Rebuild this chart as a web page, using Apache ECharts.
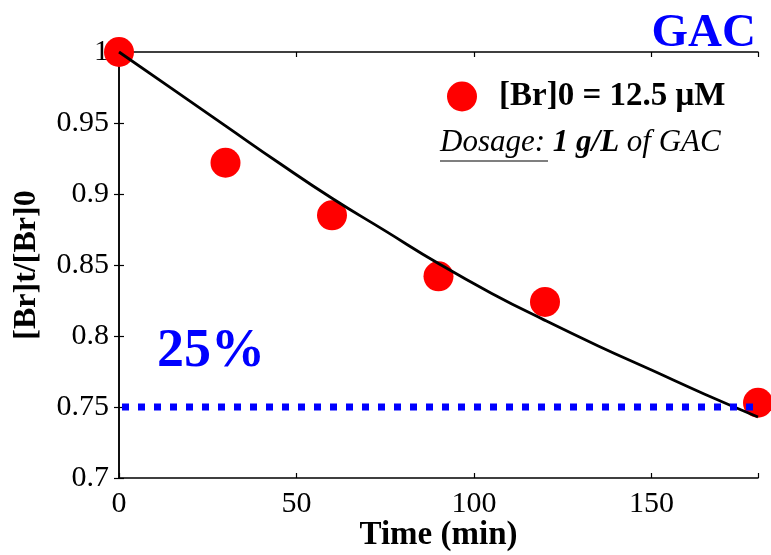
<!DOCTYPE html>
<html>
<head>
<meta charset="utf-8">
<script src="https://cdn.jsdelivr.net/npm/echarts@6/dist/echarts.min.js"></script>
<style>
  html, body { margin: 0; padding: 0; background: #fff; }
  #chart { width: 771px; height: 555px; }
</style>
</head>
<body>
<div id="chart"></div>
<script>
// measured points (min, [Br]t/[Br]0)
const timePoints = [0, 30, 60, 90, 120, 180];
const ratioPoints = [1.0, 0.922, 0.885, 0.842, 0.824, 0.753];

// fitted curve
const fitTimes = [0, 15, 30, 45, 60, 75, 90, 105, 120, 135, 150, 165, 180];
const fitRatios = [1.0, 0.974, 0.948, 0.922, 0.897, 0.874, 0.851, 0.830, 0.811, 0.793, 0.776, 0.759, 0.743];

// 25% removal reference
const refTimes = [0, 180];
const refLevel = 0.75;

const xTicks = [0, 50, 100, 150];
const legendName = '[Br]0 = 12.5 μM';

const font = 'Liberation Serif';
const chart = echarts.init(document.getElementById('chart'));

const axisBase = {
  axisLine: { lineStyle: { color: '#000', width: 1.5 } },
  axisTick: { inside: true, length: 5, lineStyle: { color: '#000', width: 1.2 } },
  splitLine: { show: false }
};

chart.setOption({
  animation: false,
  backgroundColor: '#fff',
  title: {
    text: 'GAC',
    right: 10,
    top: 5,
    textStyle: { color: '#0000ff', fontFamily: font, fontWeight: 'bold', fontSize: 47 }
  },
  legend: {
    data: [{ name: legendName, icon: 'circle' }],
    left: 442,
    top: 75,
    itemWidth: 30,
    itemHeight: 30,
    textStyle: { fontFamily: font, fontWeight: 'bold', fontSize: 33, color: '#000', padding: [0, 0, 0, 17] }
  },
  grid: { left: 119, right: 13, top: 52, bottom: 77, outerBoundsMode: 'none', containLabel: false },
  xAxis: [
    Object.assign({}, axisBase, {
      type: 'value', min: 0, max: 180, interval: 50,
      name: 'Time (min)', nameLocation: 'middle', nameGap: 41, nameMoveOverlap: false,
      nameTextStyle: { fontFamily: font, fontWeight: 'bold', fontSize: 33, color: '#000' },
      axisLabel: {
        fontFamily: font, fontSize: 30, color: '#000', margin: 11,
        formatter: v => (xTicks.indexOf(v) >= 0 ? String(v) : '')
      }
    }),
    Object.assign({}, axisBase, {
      type: 'value', position: 'top', min: 0, max: 180, interval: 50,
      axisLabel: { show: false }
    })
  ],
  yAxis: [
    Object.assign({}, axisBase, {
      type: 'value', min: 0.7, max: 1, interval: 0.05,
      name: '[Br]t/[Br]0', nameLocation: 'middle', nameGap: 76, nameMoveOverlap: false,
      nameTextStyle: { fontFamily: font, fontWeight: 'bold', fontSize: 32, color: '#000' },
      axisLabel: { fontFamily: font, fontSize: 30, color: '#000', margin: 10 }
    }),
    Object.assign({}, axisBase, {
      type: 'value', position: 'right', min: 0.7, max: 1, interval: 0.05,
      axisLabel: { show: false }
    })
  ],
  graphic: [
    {
      type: 'text', left: 157, top: 325, z: 10,
      style: { text: '25%', fill: '#0000ff', font: 'bold 54px "Liberation Serif"' }
    },
    {
      type: 'text', left: 440, top: 127, z: 10,
      style: {
        text: '{u|Dosage:}{b| 1 g/L }{i|of GAC}',
        rich: {
          u: { font: 'italic 31px "Liberation Serif"', fill: '#000' },
          b: { font: 'italic bold 31px "Liberation Serif"', fill: '#000' },
          i: { font: 'italic 31px "Liberation Serif"', fill: '#000' }
        }
      }
    },
    {
      type: 'line', z: 10,
      shape: { x1: 440, y1: 161, x2: 548, y2: 161 },
      style: { stroke: '#000', lineWidth: 1.2 }
    }
  ],
  series: [
    {
      name: legendName,
      type: 'scatter',
      data: timePoints.map((t, i) => [t, ratioPoints[i]]),
      symbol: 'circle',
      symbolSize: 30,
      clip: false,
      itemStyle: { color: '#ff0000', opacity: 1 },
      z: 2
    },
    {
      name: 'fit',
      type: 'line',
      data: fitTimes.map((t, i) => [t, fitRatios[i]]),
      smooth: true,
      showSymbol: false,
      lineStyle: { color: '#000', width: 2.8 },
      z: 3
    },
    {
      name: '25%',
      type: 'line',
      data: refTimes.map(t => [t, refLevel]),
      showSymbol: false,
      lineStyle: { color: '#0000ff', width: 7, type: [7, 9], dashOffset: 13, cap: 'butt' },
      z: 4
    }
  ]
});

window.addEventListener('resize', () => chart.resize());
</script>
</body>
</html>
